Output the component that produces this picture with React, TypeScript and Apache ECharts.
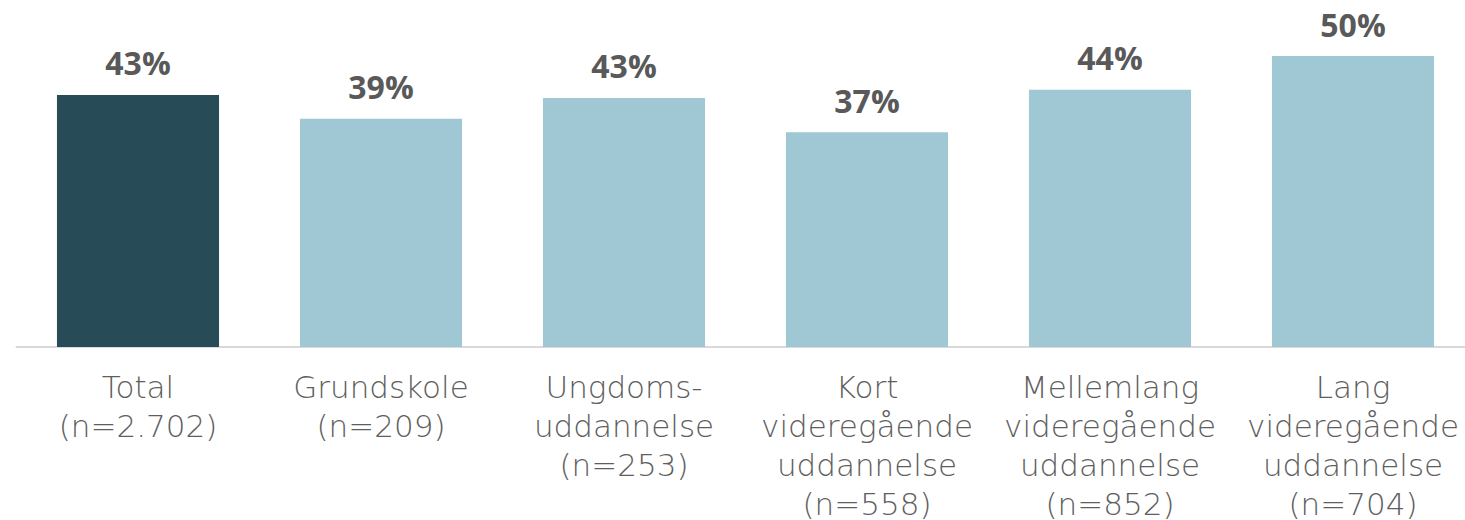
import React, { useEffect, useRef } from "react";
import * as echarts from "echarts";

const categories = [
  "Total\n(n=2.702)",
  "Grundskole\n(n=209)",
  "Ungdoms-\nuddannelse\n(n=253)",
  "Kort\nvideregående\nuddannelse\n(n=558)",
  "Mellemlang\nvideregående\nuddannelse\n(n=852)",
  "Lang\nvideregående\nuddannelse\n(n=704)",
];
const values = [43.3, 39.2, 42.8, 36.9, 44.2, 50.0];
const barColors = ["#274B57", "#A0C7D4", "#A0C7D4", "#A0C7D4", "#A0C7D4", "#A0C7D4"];

export default function App() {
  const ref = useRef<HTMLDivElement>(null);
  useEffect(() => {
    document.body.style.margin = "0";
    if (!ref.current) return;
    const chart = echarts.init(ref.current, null, { renderer: "svg" });
    chart.setOption({
      animation: false,
      grid: { left: 16.5, width: 1458, top: 56, height: 291, outerBoundsMode: "none" },
      xAxis: {
        type: "category",
        data: categories,
        axisLine: { show: true, lineStyle: { color: "#D9D9D9", width: 2 } },
        axisTick: { show: false },
        axisLabel: {
          interval: 0,
          margin: 20,
          color: "#5E5E5E",
          fontFamily: "DejaVu Sans",
          fontWeight: 200,
          fontSize: 31,
          lineHeight: 39,
        },
      },
      yAxis: {
        type: "value",
        min: 0,
        max: 50,
        show: false,
        splitLine: { show: false },
      },
      series: [
        {
          type: "bar",
          data: values.map((v, i) => ({ value: v, itemStyle: { color: barColors[i] } })),
          barCategoryGap: "33.3%",
          label: {
            show: true,
            position: "top",
            distance: 16,
            formatter: (p: any) => Math.round(p.value) + "%",
            color: "#595959",
            fontFamily: "Open Sans",
            fontWeight: "bold",
            fontSize: 32,
          },
        },
      ],
    });
    return () => chart.dispose();
  }, []);
  return <div ref={ref} style={{ width: 1465, height: 520 }} />;
}
